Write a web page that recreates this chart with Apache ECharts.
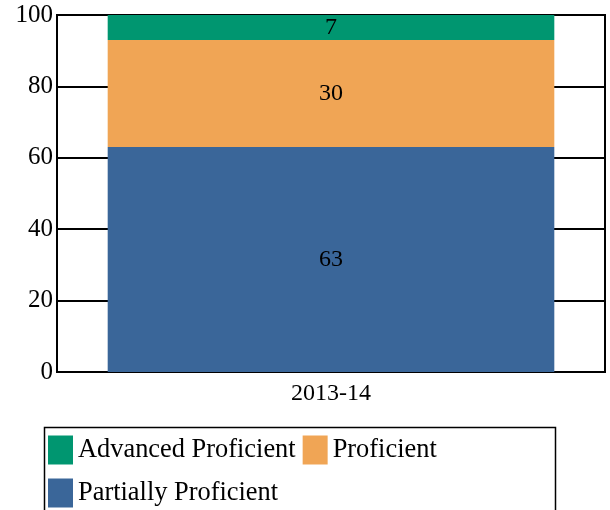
<!DOCTYPE html>
<html><head><meta charset="utf-8">
<script src="https://cdn.jsdelivr.net/npm/echarts@6/dist/echarts.min.js"></script>
<style>html,body{margin:0;padding:0;background:#fff}#c{width:610px;height:510px}</style>
</head><body><div id="c"></div>
<script>
const categories = ['2013-14'];
const partiallyProficient = [63];
const proficient = [30];
const advancedProficient = [7];
const yTicks = [0, 20, 40, 60, 80, 100];

const F = 'Liberation Serif';
const chart = echarts.init(document.getElementById('c'), null, {renderer: 'canvas'});
const lbl = {show: true, position: 'inside', color: '#000', fontFamily: F, fontSize: 24};
chart.setOption({
  animation: false,
  grid: {left: 57, right: 5, top: 15, bottom: 138, show: true, borderColor: '#000', borderWidth: 2},
  xAxis: {
    type: 'category', data: categories,
    axisLine: {lineStyle: {color: '#000', width: 2}},
    axisTick: {show: false},
    axisLabel: {color: '#000', fontFamily: F, fontSize: 24, margin: 10}
  },
  yAxis: {
    type: 'value', min: yTicks[0], max: yTicks[yTicks.length - 1], interval: 20,
    axisLine: {show: true, lineStyle: {color: '#000', width: 2}},
    axisTick: {show: false},
    splitLine: {lineStyle: {color: '#000', width: 2}},
    axisLabel: {color: '#000', fontFamily: F, fontSize: 25, margin: 4}
  },
  legend: {
    data: ['Advanced Proficient', 'Proficient', 'Partially Proficient'],
    left: 48, top: 432, width: 420, orient: 'horizontal', padding: 0,
    itemWidth: 25, itemHeight: 29, itemGap: 7,
    icon: 'rect',
    textStyle: {color: '#000', fontFamily: F, fontSize: 26.4, lineHeight: 36}
  },
  graphic: [{
    type: 'rect', left: 42, top: 425, shape: {width: 511, height: 100},
    style: {fill: 'none', stroke: '#000', lineWidth: 1.5}, silent: true
  }],
  series: [
    {name: 'Partially Proficient', type: 'bar', stack: 's', data: partiallyProficient, barWidth: '81.5%', itemStyle: {color: '#3A6699'}, label: lbl},
    {name: 'Proficient', type: 'bar', stack: 's', data: proficient, itemStyle: {color: '#F0A555'}, label: lbl},
    {name: 'Advanced Proficient', type: 'bar', stack: 's', data: advancedProficient, itemStyle: {color: '#009670'}, label: lbl}
  ]
});
</script></body></html>
